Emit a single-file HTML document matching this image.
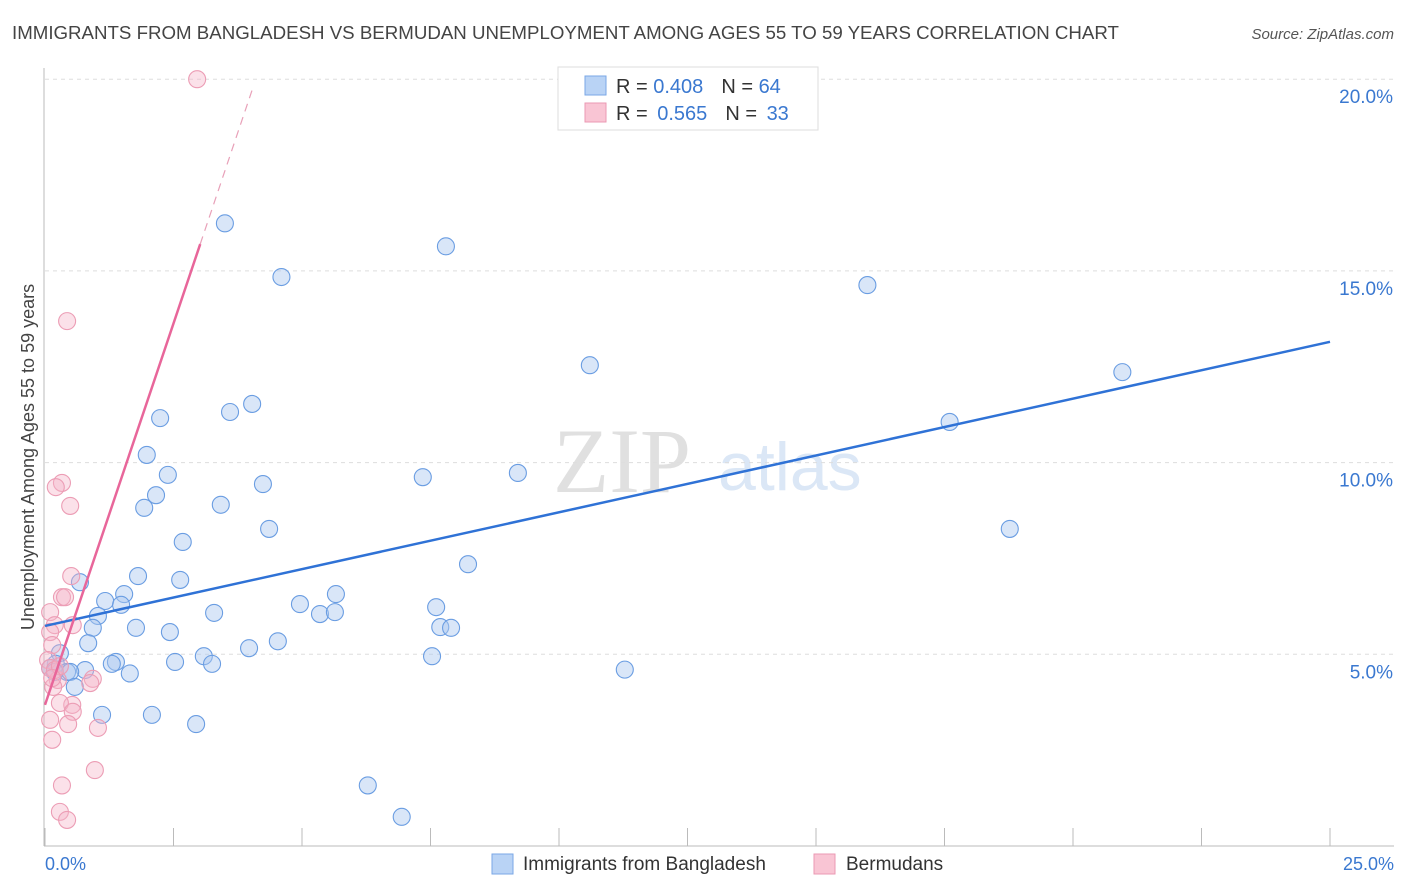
<!DOCTYPE html>
<html><head><meta charset="utf-8"><style>
body{margin:0;background:#fff;font-family:"Liberation Sans",sans-serif}
svg{display:block}
</style></head><body>
<svg id="c" width="1406" height="892">
<text x="12" y="39" font-size="18.7" fill="#444">IMMIGRANTS FROM BANGLADESH VS BERMUDAN UNEMPLOYMENT AMONG AGES 55 TO 59 YEARS CORRELATION CHART</text>
<text x="1394" y="39" font-size="15" fill="#555" font-style="italic" text-anchor="end">Source: ZipAtlas.com</text>
<text x="553" y="492" font-size="92" fill="#e0e0e0" font-family="Liberation Serif">ZIP</text>
<text x="718" y="490" font-size="68" fill="#dbe7f6">atlas</text>
<g id="grid"></g><g id="axes"></g><g id="pts"></g><g id="lines"></g>
<text transform="translate(34,457) rotate(-90)" font-size="18" fill="#444" text-anchor="middle">Unemployment Among Ages 55 to 59 years</text>
<text x="45" y="870" font-size="18" fill="#3a78d0">0.0%</text>
<text x="1394" y="870" font-size="18" fill="#3a78d0" text-anchor="end">25.0%</text>
<g>
<rect x="558" y="67" width="260" height="63" fill="#fff" stroke="#ddd"/>
<rect x="585" y="76" width="21" height="19" fill="#b9d3f5" stroke="#7aa7e6"/>
<rect x="585" y="103" width="21" height="19" fill="#f9c5d4" stroke="#eb99b3"/>
<text x="616" y="93" font-size="20" fill="#333">R = <tspan fill="#3a78d0">0.408</tspan><tspan dx="18">N = </tspan><tspan fill="#3a78d0">64</tspan></text>
<text x="616" y="120" font-size="20" fill="#333">R = <tspan fill="#3a78d0" dx="4">0.565</tspan><tspan dx="18">N = </tspan><tspan fill="#3a78d0" dx="4">33</tspan></text>
</g>
<g>
<rect x="492" y="854" width="21" height="20" fill="#b9d3f5" stroke="#7aa7e6"/>
<text x="523" y="870" font-size="19" fill="#333">Immigrants from Bangladesh</text>
<rect x="814" y="854" width="21" height="20" fill="#f9c5d4" stroke="#eb99b3"/>
<text x="846" y="870" font-size="19" fill="#333">Bermudans</text>
</g>
</svg>
<script>
const yTicks=[5,10,15,20];
const yTickLabels=["5.0%","10.0%","15.0%","20.0%"];
const xTicks=[0,2.5,5,7.5,10,12.5,15,17.5,20,22.5,25];
const blueX=[3.5,7.8,4.6,16,10.6,20.96,4.03,3.6,2.24,17.6,1.98,2.39,9.2,7.35,4.24,2.16,1.93,3.42,4.36,18.77,2.68,8.23,0.68,1.81,2.63,1.54,1.17,1.48,5.66,4.96,3.29,5.35,5.64,7.61,1.03,0.93,1.77,2.43,7.69,7.9,0.84,4.53,3.97,3.09,7.53,2.53,3.25,1.38,1.3,0.29,0.21,0.1,0.43,0.78,0.49,1.65,11.28,0.58,1.11,2.08,2.94,6.28,6.94,0.19];
const blueY=[16.24,15.64,14.84,14.63,12.54,12.36,11.53,11.32,11.16,11.06,10.2,9.68,9.73,9.62,9.44,9.15,8.82,8.9,8.27,8.27,7.93,7.35,6.88,7.04,6.94,6.57,6.39,6.29,6.57,6.31,6.08,6.05,6.1,6.23,6.0,5.69,5.69,5.58,5.71,5.69,5.29,5.34,5.16,4.95,4.95,4.8,4.75,4.8,4.75,5.03,4.75,4.64,4.54,4.59,4.54,4.5,4.6,4.15,3.42,3.42,3.18,1.58,0.76,4.54];
const pinkX=[2.96,0.43,0.33,0.21,0.49,0.51,0.33,0.39,0.1,0.19,0.54,0.1,0.14,0.06,0.1,0.25,0.16,0.93,0.88,0.53,0.29,0.54,0.45,1.03,0.1,0.14,0.97,0.33,0.29,0.43,0.19,0.29,0.14];
const pinkY=[20.0,13.69,9.47,9.36,8.87,7.04,6.49,6.49,6.1,5.76,5.76,5.58,5.24,4.85,4.64,4.33,4.15,4.36,4.25,3.68,3.73,3.5,3.18,3.08,3.29,2.77,1.98,1.58,0.89,0.68,4.59,4.69,4.38];
const blueLine=[5.74,13.15];
const pinkLine=[3.68,3.98,3.02,4.03];
const X0=45,X1=1330,Y0=846,PY=38.34;
const sx=v=>X0+(X1-X0)*v/25, sy=v=>Y0-v*PY;
const NS="http://www.w3.org/2000/svg";
function mk(tag,at,parent){const e=document.createElementNS(NS,tag);for(const k in at)e.setAttribute(k,at[k]);document.getElementById(parent).appendChild(e);return e;}
yTicks.forEach((t,i)=>{
 const g=mk('line',{x1:45,x2:1394,y1:sy(t),y2:sy(t),stroke:'#ddd','stroke-dasharray':'4,4'},'grid');
 
 
 const l=mk('text',{x:1393,y:sy(t)+24,'font-size':19,fill:'#3a78d0','text-anchor':'end'},'grid');
 l.textContent=yTickLabels[i];
 
 
});
const ax=mk('line',{x1:44,x2:44,y1:68,y2:846,stroke:'#bbb'},'axes');


const bx=mk('line',{x1:44,x2:1394,y1:846,y2:846,stroke:'#bbb'},'axes');


xTicks.forEach(t=>{
 const e=mk('line',{x1:sx(t),x2:sx(t),y1:828,y2:846,stroke:'#bbb'},'axes');
 
 
});
blueX.forEach((v,i)=>{
 const c=mk('circle',{cx:sx(v),cy:sy(blueY[i]),r:8.5,fill:'rgba(170,200,240,0.45)',stroke:'#6a9de2','stroke-width':1.1},'pts');
 
 
});
pinkX.forEach((v,i)=>{
 const c=mk('circle',{cx:sx(v),cy:sy(pinkY[i]),r:8.5,fill:'rgba(245,180,200,0.4)',stroke:'#ec9db5','stroke-width':1.1},'pts');
 
 
});
const bl=mk('line',{x1:sx(0),y1:sy(blueLine[0]),x2:sx(25),y2:sy(blueLine[1]),stroke:'#2f72d6','stroke-width':2.5},'lines');


const pl=mk('line',{x1:sx(0),y1:sy(pinkLine[0]),x2:sx(pinkLine[2]),y2:sy(pinkLine[0]+pinkLine[1]*pinkLine[2]),stroke:'#e8669a','stroke-width':2.5},'lines');


const pd=mk('line',{x1:sx(pinkLine[2]),y1:sy(pinkLine[0]+pinkLine[1]*pinkLine[2]),x2:sx(pinkLine[3]),y2:sy(pinkLine[0]+pinkLine[1]*pinkLine[3]),stroke:'#e8a0b8','stroke-width':1.2,'stroke-dasharray':'8,6'},'lines');


</script>
</body></html>
